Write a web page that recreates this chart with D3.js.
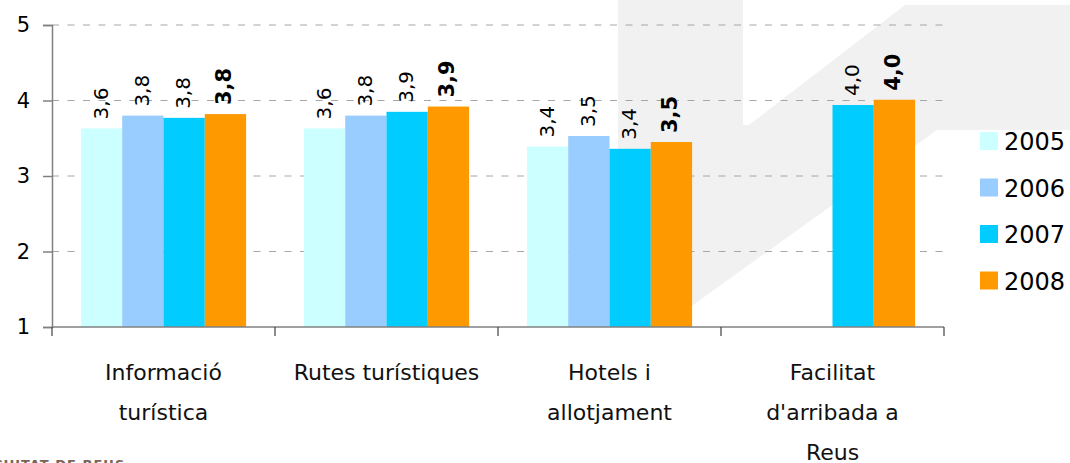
<!DOCTYPE html>
<html>
<head>
<meta charset="utf-8">
<script src="https://cdn.jsdelivr.net/npm/d3@7"></script>
<style>
  body { margin: 0; background: #fff; }
  svg { display: block; font-family: "DejaVu Sans", sans-serif; }
</style>
</head>
<body>
<div class="chart"></div>
<script>
// categories (x axis), one label line per array entry
var categories = ["Informació turística", "Rutes turístiques", "Hotels i allotjament", "Facilitat d'arribada a Reus"];
var categoryLines = [["Informació", "turística"], ["Rutes turístiques"], ["Hotels i", "allotjament"], ["Facilitat", "d'arribada a", "Reus"]];

var years = ["2005", "2006", "2007", "2008"];
var colors = ["#ccffff", "#99ccff", "#00ccff", "#ff9900"];

// values (null = no bar)
var v2005 = [3.63, 3.63, 3.39, null];
var v2006 = [3.80, 3.80, 3.53, null];
var v2007 = [3.77, 3.85, 3.36, 3.94];
var v2008 = [3.82, 3.92, 3.45, 4.01];

// printed labels
var l2005 = ["3,6", "3,6", "3,4", null];
var l2006 = ["3,8", "3,8", "3,5", null];
var l2007 = ["3,8", "3,9", "3,4", "4,0"];
var l2008 = ["3,8", "3,9", "3,5", "4,0"];

var yTicks = [1, 2, 3, 4, 5];

var series = [v2005, v2006, v2007, v2008];
var labels = [l2005, l2006, l2007, l2008];

var W = 1070, H = 463;
var margin = {top: 25, right: 126, bottom: 136, left: 52};

var svg = d3.select(".chart")
    .append("svg")
    .attr("width", W)
    .attr("height", H);

// faint background watermark
svg.append("path")
    .attr("d", "M618,0 L743,0 L743,125 L749,125 L905,5 L1070,5 L1070,130 L937,130 L693,305 L618,305 Z")
    .attr("fill", "#f1f1f1");

var x0 = d3.scaleBand()
    .domain(categories)
    .range([margin.left, W - margin.right]);

var x1 = d3.scaleBand()
    .domain(years)
    .range([0, x0.bandwidth()])
    .paddingInner(0)
    .paddingOuter(0.7);

var y = d3.scaleLinear()
    .domain([1, 5])
    .range([H - margin.bottom, margin.top]);

// gridlines
svg.append("g")
    .selectAll("line")
    .data(yTicks.slice(1))
    .enter()
    .append("line")
    .attr("x1", margin.left)
    .attr("x2", W - margin.right)
    .attr("y1", function(d) { return y(d); })
    .attr("y2", function(d) { return y(d); })
    .attr("stroke", "#a6a6a6")
    .attr("stroke-width", 1)
    .attr("stroke-dasharray", "7,8.5");

// bars
var flat = [];
series.forEach(function(s, si) {
    s.forEach(function(v, ci) {
        if (v != null) flat.push({year: years[si], cat: categories[ci], v: v, label: labels[si][ci], si: si});
    });
});

svg.append("g")
    .selectAll("rect")
    .data(flat)
    .enter()
    .append("rect")
    .attr("x", function(d) { return x0(d.cat) + x1(d.year); })
    .attr("width", x1.bandwidth())
    .attr("y", function(d) { return y(d.v); })
    .attr("height", function(d) { return y(1) - y(d.v); })
    .attr("fill", function(d) { return colors[d.si]; });

// value labels, rotated
svg.append("g")
    .selectAll("text")
    .data(flat)
    .enter()
    .append("text")
    .attr("transform", function(d) {
        var cx = x0(d.cat) + x1(d.year) + x1.bandwidth() / 2;
        return "translate(" + (cx + 6) + "," + (y(d.v) - 9) + ") rotate(-90)";
    })
    .attr("font-size", function(d) { return d.si == 3 ? 21 : 20; })
    .attr("font-weight", function(d) { return d.si == 3 ? "bold" : "normal"; })
    .attr("fill", "#000")
    .text(function(d) { return d.label; });

// y axis
var yAxis = d3.axisLeft(y)
    .tickValues(yTicks)
    .tickFormat(d3.format("d"))
    .tickSize(9)
    .tickPadding(13);

var gy = svg.append("g")
    .attr("transform", "translate(" + margin.left + ",0)")
    .call(yAxis);
gy.select(".domain").attr("stroke", "#808080").attr("stroke-width", 1.5);
gy.selectAll(".tick line").attr("stroke", "#808080").attr("stroke-width", 1.5);
gy.selectAll(".tick text")
    .attr("font-size", 21)
    .attr("font-family", "DejaVu Sans, sans-serif")
    .attr("fill", "#000");

// x axis: line plus boundary ticks
var xLine = svg.append("g");
xLine.append("line")
    .attr("x1", margin.left)
    .attr("x2", W - margin.right)
    .attr("y1", y(1))
    .attr("y2", y(1))
    .attr("stroke", "#808080")
    .attr("stroke-width", 1.5);

var bounds = categories.map(function(c) { return x0(c); }).concat([W - margin.right]);
xLine.selectAll("line.tk")
    .data(bounds)
    .enter()
    .append("line")
    .attr("class", "tk")
    .attr("x1", function(d) { return d; })
    .attr("x2", function(d) { return d; })
    .attr("y1", y(1))
    .attr("y2", y(1) + 9)
    .attr("stroke", "#404040")
    .attr("stroke-width", 1.2);

// category labels
var catG = svg.append("g")
    .selectAll("text")
    .data(categories)
    .enter()
    .append("text")
    .attr("text-anchor", "middle")
    .attr("font-size", 22)
    .attr("fill", "#111");

catG.each(function(c, i) {
    var t = d3.select(this);
    categoryLines[i].forEach(function(line, li) {
        t.append("tspan")
            .attr("x", x0(c) + x0.bandwidth() / 2)
            .attr("y", 380 + li * 40)
            .text(line);
    });
});

// legend
var lg = svg.append("g")
    .selectAll("g")
    .data(years)
    .enter()
    .append("g")
    .attr("transform", function(d, i) { return "translate(980," + (132 + i * 46.5) + ")"; });

lg.append("rect")
    .attr("width", 18)
    .attr("height", 18)
    .attr("fill", function(d, i) { return colors[i]; });

lg.append("text")
    .attr("x", 24)
    .attr("y", 18)
    .attr("font-size", 24)
    .attr("fill", "#000")
    .text(function(d) { return d; });

// cut-off footer text
svg.append("text")
    .attr("x", -7)
    .attr("y", 469)
    .attr("font-size", 13)
    .attr("font-weight", "bold")
    .attr("letter-spacing", 1)
    .attr("fill", "#7a6357")
    .text("CIUTAT DE REUS");
</script>
</body>
</html>
